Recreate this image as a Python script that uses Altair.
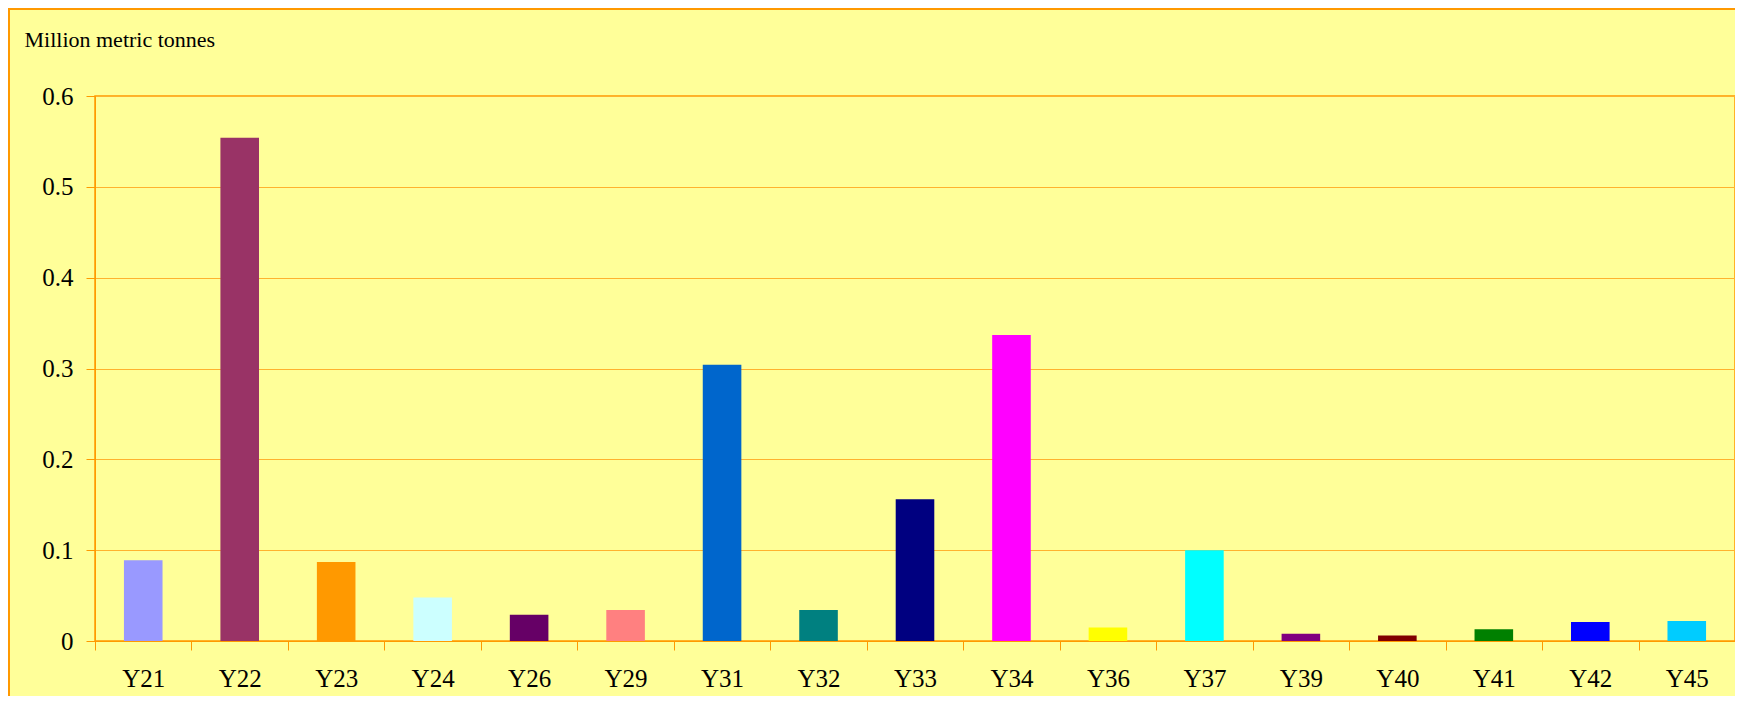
import altair as alt
import pandas as pd

categories = ["Y21", "Y22", "Y23", "Y24", "Y26", "Y29", "Y31", "Y32", "Y33",
              "Y34", "Y36", "Y37", "Y39", "Y40", "Y41", "Y42", "Y45"]
values = [0.089, 0.554, 0.087, 0.048, 0.029, 0.034, 0.304, 0.034, 0.156,
          0.337, 0.015, 0.100, 0.008, 0.006, 0.013, 0.021, 0.022]
colors = ["#9999FF", "#993366", "#FF9900", "#CCFFFF", "#660066", "#FF8080",
          "#0066CC", "#008080", "#000080", "#FF00FF", "#FFFF00", "#00FFFF",
          "#800080", "#800000", "#008000", "#0000FF", "#00CCFF"]
y_ticks = [0, 0.1, 0.2, 0.3, 0.4, 0.5, 0.6]

df = pd.DataFrame({"cat": categories, "val": values, "color": colors})

ORANGE = "#FF9900"
GRID = "#FFB22E"
FONT = "Liberation Serif"
W, H = 1640, 545

bars = alt.Chart(df).mark_bar(width=alt.RelativeBandSize(0.4)).encode(
    x=alt.X("cat:N", sort=categories,
            scale=alt.Scale(paddingInner=0, paddingOuter=0),
            axis=alt.Axis(title=None, labelAngle=0, tickBand="extent",
                          tickSize=9, tickColor=ORANGE, domainColor=ORANGE,
                          labelFont=FONT, labelFontSize=25, labelColor="black",
                          labelPadding=16, grid=False)),
    y=alt.Y("val:Q", scale=alt.Scale(domain=[0, 0.6], nice=False, zero=True),
            axis=alt.Axis(values=y_ticks, format="~g",
                          title="Million metric tonnes", titleAngle=0,
                          titleX=-71, titleY=-50, titleAlign="left",
                          titleBaseline="alphabetic", titleFont=FONT,
                          titleFontSize=22, titleFontWeight="normal",
                          titleColor="black",
                          tickSize=9, tickColor=ORANGE, domainColor=ORANGE,
                          labelFont=FONT, labelFontSize=25, labelColor="black",
                          labelPadding=13, grid=True, gridColor=GRID,
                          gridOpacity=1)),
    color=alt.Color("color:N", scale=None, legend=None),
)

frame = alt.Chart(pd.DataFrame({"a": [0]})).mark_rect(
    fill=None, stroke=ORANGE, strokeWidth=2
).encode(
    x=alt.value(-86), x2=alt.value(W + 60),
    y=alt.value(-87), y2=alt.value(H + 200),
)

chart = alt.layer(bars, frame).properties(
    width=W, height=H,
    autosize=alt.AutoSizeParams(type="none"),
    padding={"left": 87, "top": 88, "right": 0, "bottom": 55},
    background="#FFFF99",
).configure_view(stroke=ORANGE, strokeWidth=1.5)

chart.save("out.html", embed_options={"renderer": "svg", "actions": False})
